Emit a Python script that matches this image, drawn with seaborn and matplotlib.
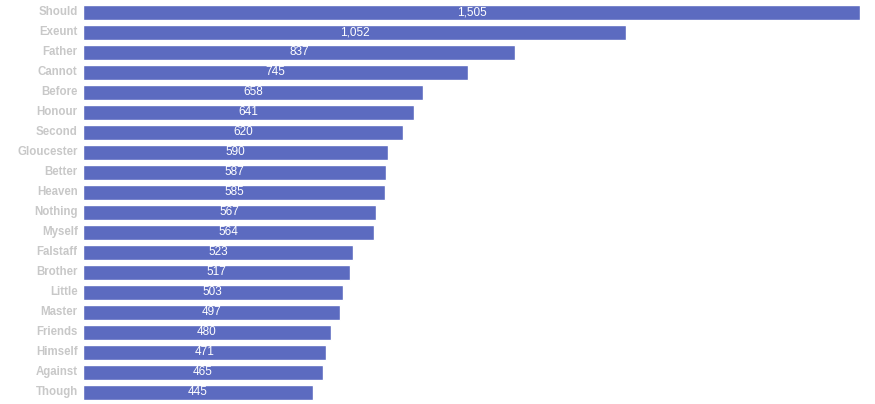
import matplotlib
matplotlib.use("Agg")
import matplotlib.pyplot as plt
import seaborn as sns
import pandas as pd

words = ["Should", "Exeunt", "Father", "Cannot", "Before", "Honour", "Second",
         "Gloucester", "Better", "Heaven", "Nothing", "Myself", "Falstaff",
         "Brother", "Little", "Master", "Friends", "Himself", "Against", "Though"]
counts = [1505, 1052, 837, 745, 658, 641, 620, 590, 587, 585, 567, 564, 523,
          517, 503, 497, 480, 471, 465, 445]

df = pd.DataFrame({"word": words, "count": counts})

sns.set_theme(style="white")
plt.rcParams["font.family"] = ["Liberation Sans", "DejaVu Sans"]

fig = plt.figure(figsize=(8.75, 4.04), dpi=100)
ax = fig.add_axes([83 / 875, 1.5 / 404, 777 / 875, 400 / 404])
sns.barplot(data=df, x="count", y="word", orient="h", color="#5c6bc0",
            saturation=1, width=0.75, ax=ax)
ax.set_xlim(0, max(counts))
ax.set_ylim(len(words) - 0.5, -0.5)
for i, v in enumerate(counts):
    ax.text(v / 2, i, f"{v:,}", ha="center", va="center", color="white",
            fontsize=8.5)
ax.set_xlabel("")
ax.set_ylabel("")
ax.set_xticks([])
ax.tick_params(axis="y", length=0, pad=3.8)
for lab in ax.get_yticklabels():
    lab.set_color("#c8c8c8")
    lab.set_fontweight("bold")
    lab.set_fontsize(8.3)
    lab.set_verticalalignment("center")
for s in ax.spines.values():
    s.set_visible(False)
fig.savefig("out.png", dpi=100)
